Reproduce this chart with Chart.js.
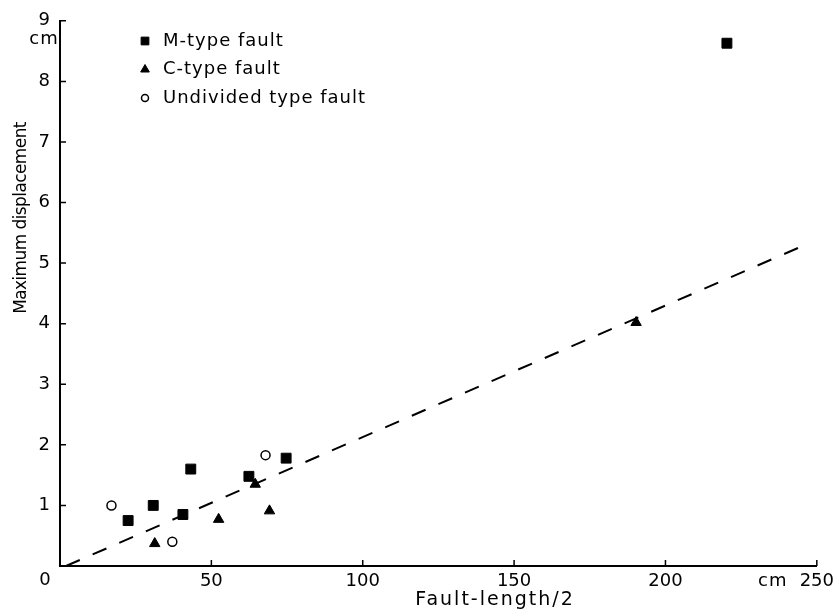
<!DOCTYPE html>
<html>
<head>
<meta charset="utf-8">
<script src="https://cdn.jsdelivr.net/npm/chart.js@4.4.1/dist/chart.umd.min.js"></script>
<style>
  body { margin: 0; background: #fff; }
</style>
</head>
<body>
<canvas id="ChartCanvas" width="839" height="616"></canvas>
<script>
// data (half fault length in cm, max displacement in cm)
const mTypeX = [22.5, 30.8, 40.6, 43.2, 62.4, 74.7, 220.3];
const mTypeY = [0.75, 1.0, 0.85, 1.6, 1.48, 1.78, 8.63];
const cTypeX = [31.3, 52.4, 64.5, 69.2, 190.3];
const cTypeY = [0.37, 0.77, 1.35, 0.91, 4.02];
const undividedX = [17.0, 37.1, 67.9];
const undividedY = [1.0, 0.4, 1.83];
const fitX = [2, 247];
const fitY = [0, 5.32];
const xTicks = [0, 50, 100, 150, 200, 250];
const yTicks = [0, 1, 2, 3, 4, 5, 6, 7, 8, 9];

const FONT = '"DejaVu Sans", sans-serif';

function toPoints(xs, ys) {
    return xs.map((x, i) => ({ x: x, y: ys[i] }));
}

Initialize();

function Initialize()
{
    Chart.defaults.font.family = FONT;
    Chart.defaults.color = '#000';

    // inward tick marks, legend and extra axis text
    const overlay = {
        id: 'overlay',
        afterDraw(chart) {
            const ctx = chart.ctx;
            const x = chart.scales.x;
            const y = chart.scales.y;
            ctx.save();
            ctx.strokeStyle = '#000';
            ctx.lineWidth = 1.5;
            ctx.beginPath();
            xTicks.forEach(v => {
                if (v === 0) return;
                const px = x.getPixelForValue(v);
                ctx.moveTo(px, y.bottom);
                ctx.lineTo(px, y.bottom - 6);
            });
            yTicks.forEach(v => {
                if (v === 0) return;
                const py = y.getPixelForValue(v);
                ctx.moveTo(x.left, py);
                ctx.lineTo(x.left + 6, py);
            });
            ctx.stroke();

            ctx.fillStyle = '#000';
            ctx.textBaseline = 'middle';
            ctx.textAlign = 'center';
            ctx.font = '18px ' + FONT;
            ctx.fillText('0', x.left - 15, y.bottom + 14);
            ctx.letterSpacing = '1px';
            ctx.fillText('cm', x.left - 16, y.getPixelForValue(9) + 19);
            ctx.fillText('cm', x.getPixelForValue(250) - 44, y.bottom + 15);

            // axis titles
            ctx.font = '19px ' + FONT;
            ctx.letterSpacing = '2px';
            ctx.fillText('Fault-length/2', 495, 600);
            ctx.save();
            ctx.translate(22, 218);
            ctx.rotate(-Math.PI / 2);
            ctx.letterSpacing = '-0.6px';
            ctx.font = '17px ' + FONT;
            ctx.fillText('Maximum displacement', 0, 0);
            ctx.restore();

            // legend
            ctx.textAlign = 'left';
            ctx.font = '18px ' + FONT;
            ctx.letterSpacing = '1px';
            const items = chart.data.datasets.filter(d => d.inLegend);
            items.forEach((d, i) => {
                const ly = 41 + i * 28.5;
                ctx.fillStyle = d.backgroundColor;
                ctx.strokeStyle = d.borderColor;
                ctx.lineWidth = d.borderWidth;
                Chart.helpers.drawPoint(ctx, {
                    pointStyle: d.pointStyle,
                    radius: d.legendRadius,
                    borderWidth: d.borderWidth
                }, 145, ly);
                ctx.fillStyle = '#000';
                ctx.fillText(d.label, 163, ly);
            });
            ctx.restore();
        }
    };

    const ctx = document.getElementById('ChartCanvas').getContext('2d');
    new Chart(ctx, {
        type: 'scatter',
        data: {
            datasets: [{
                label: 'M-type fault',
                inLegend: true,
                data: toPoints(mTypeX, mTypeY),
                pointStyle: 'rect',
                pointRadius: 7,
                legendRadius: 5.5,
                backgroundColor: '#000',
                borderColor: '#000',
                borderWidth: 1
            }, {
                label: 'C-type fault',
                inLegend: true,
                data: toPoints(cTypeX, cTypeY),
                pointStyle: 'triangle',
                pointRadius: 6,
                legendRadius: 5,
                backgroundColor: '#000',
                borderColor: '#000',
                borderWidth: 1
            }, {
                label: 'Undivided type fault',
                inLegend: true,
                data: toPoints(undividedX, undividedY),
                pointStyle: 'circle',
                pointRadius: 4.5,
                legendRadius: 3.5,
                backgroundColor: '#fff',
                borderColor: '#000',
                borderWidth: 1.5
            }, {
                label: 'fit',
                type: 'line',
                data: toPoints(fitX, fitY),
                showLine: true,
                borderColor: '#000',
                borderWidth: 2,
                borderDash: [15, 14],
                pointRadius: 0,
                fill: false
            }]
        },
        options: {
            responsive: false,
            animation: false,
            layout: { padding: { top: 15, right: 21, bottom: 0, left: 0 } },
            plugins: {
                legend: { display: false },
                tooltip: { enabled: false }
            },
            scales: {
                x: {
                    type: 'linear',
                    min: 0,
                    max: 250,
                    afterBuildTicks: s => { s.ticks = xTicks.map(v => ({ value: v })); },
                    afterFit: s => { s.height = 50; },
                    grid: { drawOnChartArea: false, drawTicks: false },
                    border: { display: true, color: '#000', width: 2 },
                    ticks: {
                        padding: 5,
                        maxRotation: 0,
                        font: { size: 18 },
                        callback: v => v === 0 ? '' : v
                    }
                },
                y: {
                    type: 'linear',
                    min: 0,
                    max: 9,
                    afterBuildTicks: s => { s.ticks = yTicks.map(v => ({ value: v })); },
                    afterFit: s => { s.width = 60; },
                    grid: { drawOnChartArea: false, drawTicks: false },
                    border: { display: true, color: '#000', width: 2 },
                    ticks: {
                        padding: 10,
                        font: { size: 18 },
                        callback: v => v === 0 ? '' : v
                    }
                }
            }
        },
        plugins: [overlay]
    });
}
</script>
</body>
</html>
